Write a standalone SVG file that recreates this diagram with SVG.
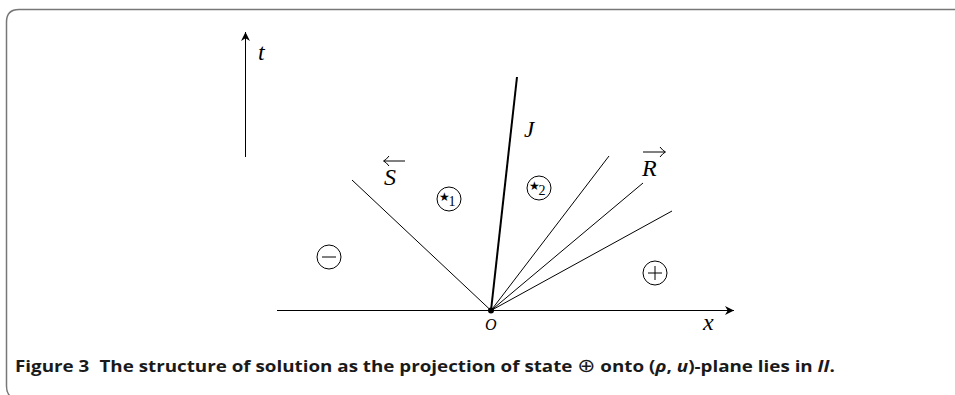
<svg xmlns="http://www.w3.org/2000/svg" width="955" height="395" viewBox="0 0 955 395">
<style>
.ln{stroke:#000;stroke-width:1;fill:none}
.st{stroke:#000;stroke-width:1;fill:none}
.m{font-family:"Liberation Serif","DejaVu Serif",serif;font-style:italic;fill:#000}
.cap{font-family:"Open Sans","Noto Sans",sans-serif;font-weight:bold;font-size:16.5px;fill:#1a1a1a}
.sn{font-family:"DejaVu Sans",sans-serif;font-size:12px}
.sub{font-family:"Liberation Serif",serif;font-size:14px}
</style>
<defs>
<marker id="ah" viewBox="0 0 10 10" refX="10" refY="5" markerWidth="9" markerHeight="9" markerUnits="userSpaceOnUse" orient="auto">
<path d="M0,0 L10,5 L0,10 L3,5 Z" fill="#000"/>
</marker>
</defs>
<path d="M955 9.5 H19 Q6.5 9.5 6.5 22 V386 Q6.5 393 10 396" fill="none" stroke="#777" stroke-width="1.5"/>
<g id="axes">
<line class="ln" x1="245.5" y1="157" x2="245.5" y2="32" marker-end="url(#ah)"/>
<line class="ln" x1="277" y1="310.5" x2="734" y2="310.5" marker-end="url(#ah)"/>
<text class="m" x="258" y="60" font-size="24">t</text>
<text class="m" x="703" y="330" font-size="24">x</text>
</g>
<g id="connectors">
<line class="ln" x1="352" y1="180" x2="491" y2="310.5"/>
<line x1="491" y1="310.5" x2="517" y2="77" stroke="#000" stroke-width="2"/>
<line class="ln" x1="491" y1="310.5" x2="609" y2="156"/>
<line class="ln" x1="491" y1="310.5" x2="643" y2="183"/>
<line class="ln" x1="491" y1="310.5" x2="672" y2="211"/>
<circle cx="491" cy="310.5" r="3" fill="#000"/>
</g>
<g id="O"><text class="m" x="485" y="330" font-size="16">O</text></g>
<g id="J"><text class="m" x="524" y="137" font-size="23">J</text></g>
<g id="S">
<text class="m" x="384" y="185" font-size="24">S</text>
<line class="ln" x1="384" y1="161" x2="405" y2="161"/>
<path class="ln" d="M389 156 Q386 160 383.5 161 Q386 162 389 166"/>
</g>
<g id="R">
<text class="m" x="642" y="176" font-size="24">R</text>
<line class="ln" x1="643" y1="152" x2="665" y2="152"/>
<path class="ln" d="M660 147 Q663 151 665.5 152 Q663 153 660 157"/>
</g>
<g id="star1">
<circle class="st" cx="449" cy="199" r="12"/>
<text class="sn" x="439" y="201">★</text>
<text class="sub" x="448.5" y="206">1</text>
</g>
<g id="star2">
<circle class="st" cx="539" cy="188" r="12"/>
<text class="sn" x="529" y="190">★</text>
<text class="sub" x="538.5" y="195">2</text>
</g>
<g id="minus">
<circle class="st" cx="329" cy="257" r="12"/>
<line class="ln" x1="322" y1="257" x2="336" y2="257"/>
</g>
<g id="plus">
<circle class="st" cx="655" cy="273" r="12"/>
<line class="ln" x1="648" y1="273" x2="662" y2="273"/>
<line class="ln" x1="655" y1="266" x2="655" y2="280"/>
</g>
<g id="caption">
<text class="cap" x="15" y="372" textLength="820" lengthAdjust="spacingAndGlyphs">Figure 3<tspan dx="9">The structure of solution as the projection of state </tspan><tspan font-weight="normal" font-family="DejaVu Sans,sans-serif" font-size="19">⊕</tspan> onto (<tspan font-style="italic">ρ</tspan>, <tspan font-style="italic">u</tspan>)-plane lies in <tspan font-style="italic">II</tspan>.</text>
</g>
</svg>
